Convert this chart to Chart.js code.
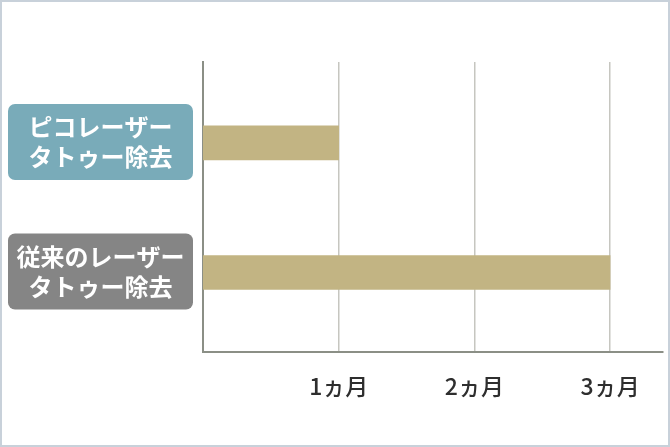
<!DOCTYPE html>
<html>
<head>
<meta charset="utf-8">
<script src="https://cdn.jsdelivr.net/npm/chart.js@4.4.1/dist/chart.umd.min.js"></script>
<style>
  html, body { margin: 0; padding: 0; background: #fff; }
  #wrap { width: 670px; height: 447px; box-sizing: border-box; border: 2px solid #c8d1da; position: relative; background: #fff; }
  canvas { display: block; }
</style>
</head>
<body>
<div id="wrap"><canvas id="c"></canvas></div>
<script>
const categories = [['ピコレーザー', 'タトゥー除去'], ['従来のレーザー', 'タトゥー除去']];
const months = [1, 3];
const tickValues = [1, 2, 3];
const tickLabels = ['1ヵ月', '2ヵ月', '3ヵ月'];
const boxColors = ['#79abb9', '#858585'];

const labelBoxes = {
  id: 'labelBoxes',
  afterDraw(chart) {
    const ctx = chart.ctx;
    const y = chart.scales.y;
    ctx.save();
    categories.forEach((lines, i) => {
      const cy = y.getPixelForValue(i) - 1;
      const x0 = 6, x1 = 191, h = 76;
      ctx.fillStyle = boxColors[i];
      ctx.beginPath();
      ctx.roundRect(x0, cy - h / 2, x1 - x0, h, 7);
      ctx.fill();
      ctx.fillStyle = '#ffffff';
      ctx.font = 'bold 24px "Noto Sans CJK JP", "Noto Sans", sans-serif';
      ctx.textAlign = 'center';
      ctx.textBaseline = 'middle';
      lines.forEach((t, k) => {
        ctx.fillText(t, (x0 + x1) / 2, cy + (k === 0 ? -15 : 15));
      });
    });
    ctx.restore();
  }
};

new Chart(document.getElementById('c'), {
  type: 'bar',
  data: {
    datasets: [{
      data: months.map((v, i) => ({ x: v, y: i })),
      backgroundColor: '#c2b483',
      borderWidth: 0,
      barThickness: 34
    }]
  },
  options: {
    indexAxis: 'y',
    responsive: true,
    maintainAspectRatio: false,
    animation: false,
    layout: { padding: { left: 201, top: 60, right: 5, bottom: 0 } },
    plugins: { legend: { display: false }, tooltip: { enabled: false } },
    scales: {
      x: {
        type: 'linear',
        min: 0,
        max: 3.39,
        afterBuildTicks(s) { s.ticks = tickValues.map(v => ({ value: v })); },
        afterFit(s) { s.height = 93; },
        grid: { color: '#c6c6c0', lineWidth: 1.5, drawTicks: false },
        border: { display: true, color: '#8b8f86', width: 2 },
        ticks: {
          padding: 20,
          color: '#2e2e2e',
          font: { family: '"Noto Sans CJK JP", "Noto Sans", sans-serif', size: 23, weight: '500' },
          callback(v) { const i = tickValues.indexOf(v); return i >= 0 ? tickLabels[i] : ''; }
        }
      },
      y: {
        type: 'linear',
        reverse: true,
        offset: false,
        min: -0.625,
        max: 1.614,
        afterFit(s) { s.width = 0; },
        grid: { display: false },
        border: { display: true, color: '#8b8f86', width: 2 },
        ticks: { display: false }
      }
    }
  },
  plugins: [labelBoxes]
});
</script>
</body>
</html>
